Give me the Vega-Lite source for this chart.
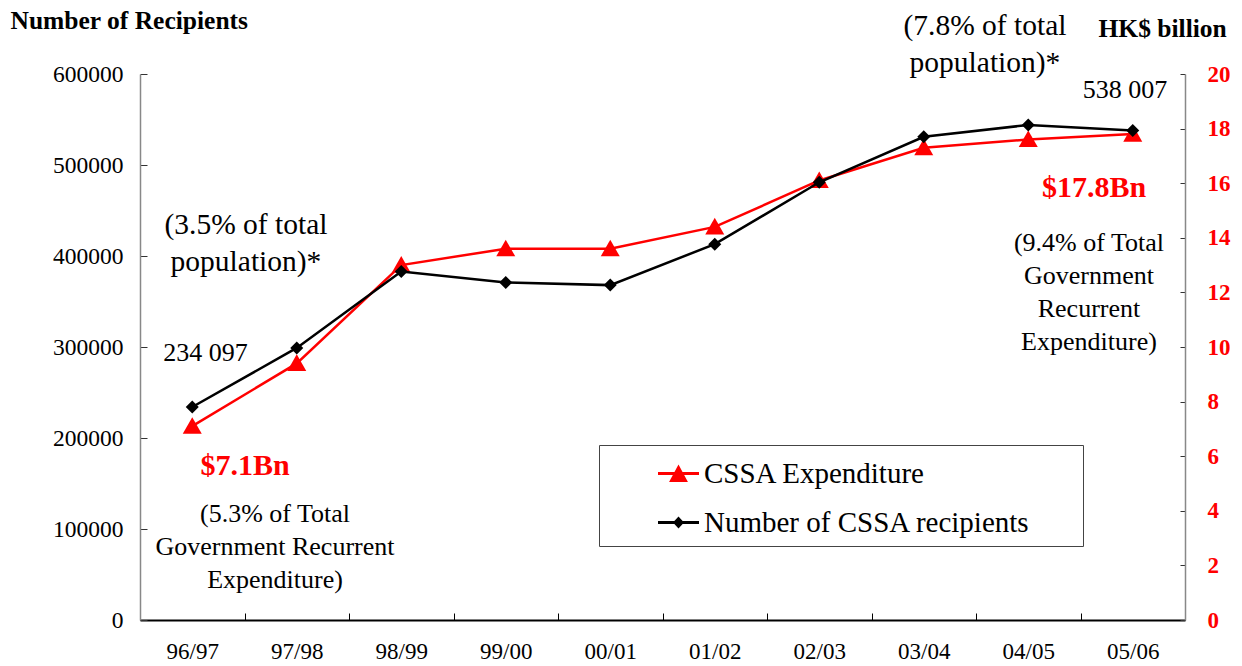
{
  "$schema": "https://vega.github.io/schema/vega-lite/v6.json",
  "width": 1045,
  "height": 546,
  "autosize": {"type": "none"},
  "padding": {"left": 140, "top": 74, "right": 57, "bottom": 46},
  "background": "white",
  "config": {
    "view": {"stroke": null},
    "font": "Liberation Serif",
    "axis": {"grid": false, "labelFont": "Liberation Serif", "titleFont": "Liberation Serif"},
    "legend": {
      "orient": "none",
      "legendX": 459,
      "legendY": 371,
      "direction": "vertical",
      "padding": 8,
      "strokeColor": "#444444",
      "fillColor": "white",
      "symbolSize": 1681,
      "symbolStrokeWidth": 0,
      "symbolOpacity": 1,
      "symbolOffset": 51,
      "labelOffset": 5,
      "rowPadding": 13,
      "labelFont": "Liberation Serif",
      "labelFontSize": 29,
      "labelColor": "#000000",
      "labelLimit": 600,
      "titleOrient": "right",
      "titlePadding": 45,
      "titleFont": "Liberation Serif",
      "titleFontSize": 10
    }
  },
  "datasets": {
    "cssa": [
      {"period": "96/97", "recipients": 234097, "expenditure": 7.1},
      {"period": "97/98", "recipients": 299000, "expenditure": 9.4},
      {"period": "98/99", "recipients": 383000, "expenditure": 13.0},
      {"period": "99/00", "recipients": 371000, "expenditure": 13.6},
      {"period": "00/01", "recipients": 368000, "expenditure": 13.6},
      {"period": "01/02", "recipients": 413000, "expenditure": 14.4},
      {"period": "02/03", "recipients": 481000, "expenditure": 16.1},
      {"period": "03/04", "recipients": 531000, "expenditure": 17.3},
      {"period": "04/05", "recipients": 544000, "expenditure": 17.6},
      {"period": "05/06", "recipients": 538007, "expenditure": 17.8}
    ],
    "notes": [
      {"ax": 8.086, "ay": 643000, "label": "(7.8% of total\npopulation)*", "kind": "popTop"},
      {"ax": 1.014, "ay": 424500, "label": "(3.5% of total\npopulation)*", "kind": "popLeft"},
      {"ax": 9.426, "ay": 573600, "label": "538 007", "kind": "plain"},
      {"ax": 0.627, "ay": 284600, "label": "234 097", "kind": "plain"},
      {"ax": 9.081, "ay": 405500, "label": "(9.4% of Total\nGovernment\nRecurrent\nExpenditure)", "kind": "plain"},
      {"ax": 1.292, "ay": 107700, "label": "(5.3% of Total\nGovernment Recurrent\nExpenditure)", "kind": "plain"},
      {"ax": 9.129, "ay": 464800, "label": "$17.8Bn", "kind": "money"},
      {"ax": 1.005, "ay": 159300, "label": "$7.1Bn", "kind": "money"}
    ],
    "series": [
      {"series": "CSSA Expenditure"},
      {"series": "Number of CSSA recipients"}
    ]
  },
  "layer": [
    {
      "data": {"name": "cssa"},
      "encoding": {
        "x": {
          "field": "period", "type": "ordinal", "sort": null,
          "scale": {"type": "band", "paddingInner": 0, "paddingOuter": 0},
          "axis": {
            "title": null, "orient": "bottom", "tickBand": "extent",
            "tickSize": -7, "tickColor": "#000000", "tickWidth": 1,
            "domainColor": "#000000", "domainWidth": 2,
            "labelFont": "Liberation Serif", "labelFontSize": 23, "labelColor": "#000000", "labelPadding": 27,
            "labelAngle": 0, "labelBaseline": "top"
          }
        },
        "y": {
          "field": "expenditure", "type": "quantitative",
          "scale": {"domain": [0, 20], "nice": false, "zero": true},
          "axis": {
            "orient": "right", "values": [0, 2, 4, 6, 8, 10, 12, 14, 16, 18, 20],
            "tickSize": -5, "tickColor": "#333333", "domainColor": "#888888", "domainWidth": 1.5,
            "labelPadding": 27, "labelFont": "Liberation Serif", "labelFontSize": 23, "labelFontWeight": "bold", "labelColor": "#ff0000",
            "labelAlign": "left",
            "title": "HK$ billion", "titleFont": "Liberation Serif", "titleAngle": 0, "titleFontSize": 25.5, "titleFontWeight": "bold",
            "titleColor": "#000000", "titleAlign": "left", "titleBaseline": "alphabetic",
            "titleX": -87, "titleY": -38
          }
        }
      },
      "layer": [
        {"mark": {"type": "line", "color": "#ff0000", "strokeWidth": 2.5}},
        {"mark": {"type": "point", "shape": "M0,-0.95L1,0.8L-1,0.8Z", "filled": true, "color": "#ff0000", "size": 361, "opacity": 1, "strokeWidth": 0}}
      ]
    },
    {
      "data": {"name": "cssa"},
      "encoding": {
        "x": {
          "field": "period", "type": "ordinal", "sort": null,
          "scale": {"type": "band", "paddingInner": 0, "paddingOuter": 0},
          "axis": null
        },
        "y": {
          "field": "recipients", "type": "quantitative",
          "scale": {"domain": [0, 600000], "nice": false, "zero": true},
          "axis": {
            "orient": "left", "values": [0, 100000, 200000, 300000, 400000, 500000, 600000],
            "format": "d", "tickSize": -7, "tickColor": "#333333", "domainColor": "#888888", "domainWidth": 1.5,
            "labelPadding": 24, "labelFont": "Liberation Serif", "labelFontSize": 23.5, "labelColor": "#000000",
            "title": "Number of Recipients", "titleFont": "Liberation Serif", "titleAngle": 0, "titleFontSize": 25.5, "titleFontWeight": "bold",
            "titleColor": "#000000", "titleAlign": "left", "titleBaseline": "alphabetic",
            "titleX": -130, "titleY": -46
          }
        }
      },
      "layer": [
        {"mark": {"type": "line", "color": "#000000", "strokeWidth": 2.5}},
        {"mark": {"type": "point", "shape": "diamond", "filled": true, "color": "#000000", "size": 169, "opacity": 1, "strokeWidth": 0}}
      ]
    },
    {
      "data": {"name": "series"},
      "mark": {"type": "point", "filled": true, "opacity": 0},
      "encoding": {
        "color": {
          "field": "series", "type": "nominal",
          "scale": {"domain": ["CSSA Expenditure", "Number of CSSA recipients"], "range": ["#ff0000", "#000000"]},
          "legend": {"title": " "}
        },
        "shape": {
          "field": "series", "type": "nominal",
          "scale": {
            "domain": ["CSSA Expenditure", "Number of CSSA recipients"],
            "range": [
              "M-1,-0.07H1V0.07H-1ZM0,-0.44L0.46,0.42H-0.46Z",
              "M-1,-0.07H1V0.07H-1ZM-0.27,0L0,-0.29L0.27,0L0,0.29Z"
            ]
          },
          "legend": {"title": " "}
        }
      }
    },
    {
      "data": {"name": "notes"},
      "transform": [{"filter": "datum.kind === 'popTop'"}],
      "mark": {"type": "text", "font": "Liberation Serif", "fontSize": 29.5, "lineHeight": 37, "lineBreak": "\n", "align": "center", "baseline": "alphabetic", "color": "#000000"},
      "encoding": {
        "x": {"field": "ax", "type": "quantitative", "scale": {"domain": [0, 10], "nice": false, "zero": false}, "axis": null},
        "y": {"field": "ay", "type": "quantitative", "scale": {"domain": [0, 600000], "nice": false}, "axis": null},
        "text": {"field": "label"}
      }
    },
    {
      "data": {"name": "notes"},
      "transform": [{"filter": "datum.kind === 'popLeft'"}],
      "mark": {"type": "text", "font": "Liberation Serif", "fontSize": 29.5, "lineHeight": 37, "lineBreak": "\n", "align": "center", "baseline": "alphabetic", "color": "#000000"},
      "encoding": {
        "x": {"field": "ax", "type": "quantitative", "scale": {"domain": [0, 10], "nice": false, "zero": false}, "axis": null},
        "y": {"field": "ay", "type": "quantitative", "scale": {"domain": [0, 600000], "nice": false}, "axis": null},
        "text": {"field": "label"}
      }
    },
    {
      "data": {"name": "notes"},
      "transform": [{"filter": "datum.kind === 'plain'"}],
      "mark": {"type": "text", "font": "Liberation Serif", "fontSize": 26, "lineHeight": 33, "lineBreak": "\n", "align": "center", "baseline": "alphabetic", "color": "#000000"},
      "encoding": {
        "x": {"field": "ax", "type": "quantitative", "scale": {"domain": [0, 10], "nice": false, "zero": false}, "axis": null},
        "y": {"field": "ay", "type": "quantitative", "scale": {"domain": [0, 600000], "nice": false}, "axis": null},
        "text": {"field": "label"}
      }
    },
    {
      "data": {"name": "notes"},
      "transform": [{"filter": "datum.kind === 'money'"}],
      "mark": {"type": "text", "font": "Liberation Serif", "fontSize": 30, "fontWeight": "bold", "align": "center", "baseline": "alphabetic", "color": "#ff0000"},
      "encoding": {
        "x": {"field": "ax", "type": "quantitative", "scale": {"domain": [0, 10], "nice": false, "zero": false}, "axis": null},
        "y": {"field": "ay", "type": "quantitative", "scale": {"domain": [0, 600000], "nice": false}, "axis": null},
        "text": {"field": "label"}
      }
    }
  ],
  "resolve": {"scale": {"x": "independent", "y": "independent"}}
}
